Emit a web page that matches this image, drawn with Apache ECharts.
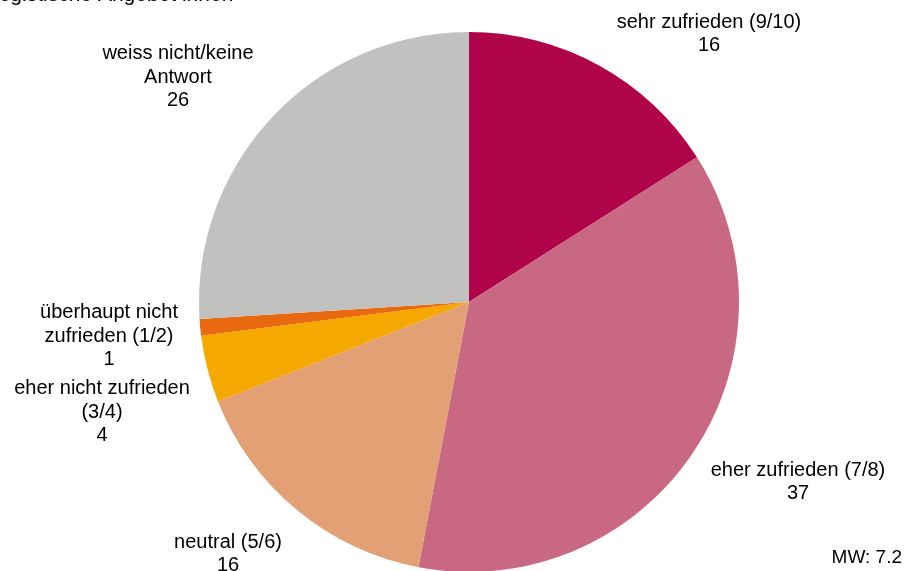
<!DOCTYPE html>
<html>
<head>
<meta charset="utf-8">
<style>
  html, body { margin: 0; padding: 0; background: #fff; }
  #chart { width: 917px; height: 571px; }
</style>
<script src="https://cdn.jsdelivr.net/npm/echarts@6/dist/echarts.min.js"></script>
</head>
<body>
<div id="chart"></div>
<script>
// Zufriedenheit – Anteile in Prozent
const categories = [
  'sehr zufrieden (9/10)',
  'eher zufrieden (7/8)',
  'neutral (5/6)',
  'eher nicht zufrieden\n(3/4)',
  'überhaupt nicht\nzufrieden (1/2)',
  'weiss nicht/keine\nAntwort'
];
const values = [16, 37, 16, 4, 1, 26];
const colors = ['#B0044A', '#C96882', '#E3A074', '#F5A800', '#E8690F', '#C1C1BF'];
const meanLabel = 'MW: 7.2';
const headerText = 'logistische Angebot innen';

// label block centres (px)
const labelPos = [
  [709, 34], [798, 482], [228, 554], [102, 412], [109, 336], [178, 77]
];

const FONT = 'Arial, "Liberation Sans", sans-serif';

const chart = echarts.init(document.getElementById('chart'), null, { renderer: 'canvas' });
chart.setOption({
  animation: false,
  backgroundColor: '#ffffff',
  graphic: [
    {
      type: 'text', left: -6, top: -15,
      style: { text: headerText, font: '21px ' + FONT, fill: '#000' }
    },
    {
      type: 'text', right: 15, bottom: 4,
      style: { text: meanLabel, font: '19px ' + FONT, fill: '#000' }
    }
  ],
  series: [{
    type: 'pie',
    center: [469, 302],
    radius: 270,
    startAngle: 90,
    clockwise: true,
    avoidLabelOverlap: false,
    data: categories.map((c, i) => ({
      name: c, value: values[i], itemStyle: { color: colors[i] }
    })),
    itemStyle: { borderWidth: 0 },
    label: {
      show: true,
      position: 'outside',
      formatter: p => p.name + '\n' + p.value,
      fontFamily: FONT,
      fontSize: 20,
      lineHeight: 23.5,
      color: '#000',
      align: 'center'
    },
    labelLine: { show: false },
    labelLayout: p => ({
      x: labelPos[p.dataIndex][0],
      y: labelPos[p.dataIndex][1],
      align: 'center',
      verticalAlign: 'middle'
    }),
    emphasis: { disabled: true }
  }]
});
</script>
</body>
</html>
